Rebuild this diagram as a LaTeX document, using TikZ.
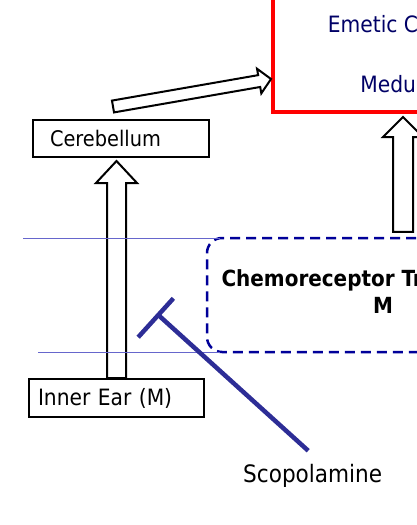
\documentclass[tikz,border=0pt]{standalone}
\usepackage{fontspec}
\setmainfont{DejaVu Sans Condensed}
\usetikzlibrary{calc,arrows.meta}

\definecolor{navy}{RGB}{0,0,102}
\definecolor{ctzblue}{RGB}{0,0,153}
\definecolor{sepblue}{RGB}{102,102,204}
\definecolor{scopo}{RGB}{45,45,150}

% tail, tip, half shaft, half head, head length
\newcommand{\hollowarrow}[5]{%
  \coordinate (hb) at ($#2!#5!#1$);
  \draw[hollow] ($#1!#3!90:#2$) -- ($(hb)!#3!90:#2$) -- ($(hb)!#4!90:#2$) -- #2
    -- ($(hb)!#4!-90:#2$) -- ($(hb)!#3!-90:#2$) -- ($#1!#3!-90:#2$) -- cycle;}

\begin{document}
\begin{tikzpicture}[x=1pt, y=-1pt,
    box/.style={draw, line width=2pt, align=left, inner ysep=0pt},
    hollow/.style={draw=black, fill=white, line width=2pt},
    sepline/.style={draw=sepblue, line width=1pt},
    blocker/.style={draw=scopo, line width=4.5pt}]
    \path[use as bounding box, clip] (0,0) rectangle (417,525);

    \node[draw=red, line width=4pt, minimum width=254pt, minimum height=114pt,
        text=navy, align=center, text depth=2pt, font=\fontsize{22.5}{60}\selectfont]
        (emetic) at (400,55) {Emetic Center\\Medulla};
    \node[box, text width=142pt, inner xsep=17pt, minimum height=37pt,
        font=\fontsize{21.5}{26}\selectfont] (cereb) at (121,138.5) {Cerebellum};
    \node[box, text width=157pt, inner xsep=9pt, minimum height=38pt,
        font=\fontsize{22.5}{27}\selectfont] (ear) at (116.5,398) {Inner Ear (M)};
    \node[draw=ctzblue, line width=2.5pt, dash pattern=on 10pt off 6pt,
        rounded corners=15pt, minimum width=352pt, minimum height=114pt,
        align=center, text depth=6.4pt, font=\bfseries\fontsize{22.2}{26.5}\selectfont]
        (ctz) at (383,295) {Chemoreceptor Trigger Zone\\M};
    \node[font=\fontsize{24}{28}\selectfont, anchor=base] (scop) at (312.7,482.5) {Scopolamine};

    \coordinate (a1) at ($(ear.north |- cereb.south)+(0,3)$);
    \hollowarrow{(ear.north)}{(a1)}{9.5pt}{20.5pt}{22pt}
    \coordinate (a2s) at ($(cereb.north)+(-8,-12.5)$);
    \coordinate (a2e) at ($(emetic.south west)+(0,-35)$);
    \hollowarrow{(a2s)}{(a2e)}{6pt}{12.5pt}{12pt}
    \coordinate (a3s) at ($(ctz.north)+(20,-5)$);
    \coordinate (a3e) at ($(a3s |- emetic.south)+(0,3)$);
    \hollowarrow{(a3s)}{(a3e)}{10pt}{20pt}{20pt}

    \draw[sepline] (23,238) -- (220,238);
    \draw[sepline] (38,352) -- (220,352);

    \coordinate (scopline) at ($(scop.north)+(-4.5,-10)$);
    \coordinate (block) at (158.3,315);
    \draw[blocker] (scopline) -- (block);
    \draw[blocker] ($(block)!22.5pt!90:(scopline)$) -- ($(block)!30pt!-90:(scopline)$);
\end{tikzpicture}
\end{document}
